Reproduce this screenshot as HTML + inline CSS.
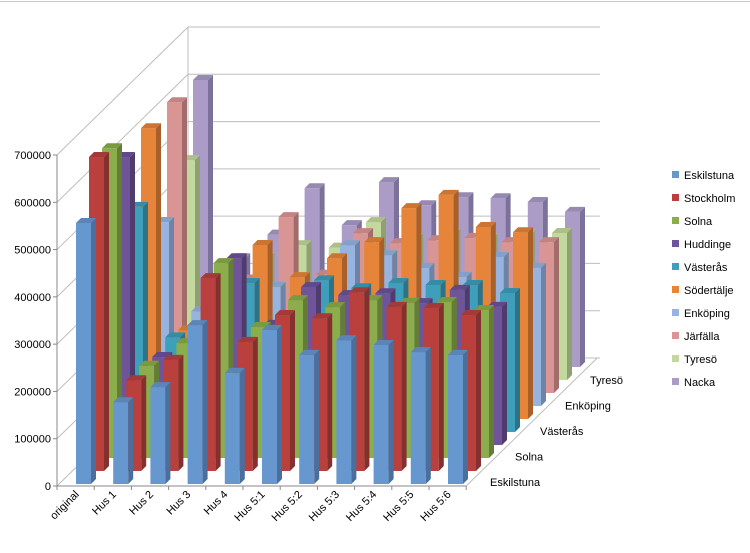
<!DOCTYPE html>
<html><head><meta charset="utf-8">
<style>
html,body{margin:0;padding:0;background:#fff;}
svg{display:block;font-family:"Liberation Sans",sans-serif;}
</style></head>
<body>
<svg id="chart" width="750" height="553" viewBox="0 0 750 553" xmlns="http://www.w3.org/2000/svg">
<line x1="0" y1="1.5" x2="750" y2="1.5" stroke="#c8c8c8"/>
<g id="walls"></g>
<g id="bars"></g>
<g id="axes"></g>
<g id="legend"></g>
</svg>
<script>
const categories = ["original","Hus 1","Hus 2","Hus 3","Hus 4","Hus 5:1","Hus 5:2","Hus 5:3","Hus 5:4","Hus 5:5","Hus 5:6"];
const seriesNames = ["Eskilstuna","Stockholm","Solna","Huddinge","Västerås","Södertälje","Enköping","Järfälla","Tyresö","Nacka"];
const eskilstuna = [552000,173000,205000,336000,235000,326000,273000,304000,294000,279000,273000];
const stockholm  = [664000,192000,235000,408000,273000,330000,323000,378000,347000,345000,330000];
const solna      = [655000,195000,243000,412000,277000,334000,319000,334000,328000,330000,313000];
const huddinge   = [609000,186000,230000,395000,254000,334000,317000,321000,300000,328000,292000];
const vasteras   = [476000,200000,240000,315000,240000,321000,304000,315000,311000,311000,294000];
const sodertalje = [615000,188000,250000,368000,300000,340000,374000,446000,474000,406000,395000];
const enkoping   = [389000,200000,230000,252000,230000,340000,319000,292000,273000,315000,292000];
const jarfalla   = [615000,210000,240000,372000,250000,338000,317000,323000,328000,319000,319000];
const tyreso     = [465000,220000,260000,285000,280000,334000,300000,310000,300000,305000,311000];
const nacka      = [607000,230000,280000,378000,300000,391000,342000,359000,357000,349000,328000];
const seriesValues = [eskilstuna,stockholm,solna,huddinge,vasteras,sodertalje,enkoping,jarfalla,tyreso,nacka];
const yTicks = [0,100000,200000,300000,400000,500000,600000,700000];
const depthLabels = ["Eskilstuna","Solna","Västerås","Enköping","Tyresö"];

const colors = ["#6797cf","#b9403d","#8bad4b","#70549a","#3e9fba","#e6853a","#97b4e0","#d99494","#c3d89c","#aa9bc7"];
const sides  = ["#4a6f9c","#83302e","#647d36","#4f3b6e","#2c7388","#a85f28","#6e84a6","#a26c6b","#8fa072","#7c719a"];
const tops   = ["#5b84b8","#a33a37","#7a9a42","#614888","#368ca4","#cc7533","#85a0c8","#c38383","#adc089","#968ab0"];

const NS="http://www.w3.org/2000/svg";
const X0=57, Y0=486, CW=37.2, DX=13, DY=13, SCALE=331/700000;
const BW=15, SD=5;
function xCat(i){return 76+CW*i;}
function yVal(v){return v*SCALE;}
function mk(tag,attrs,parent){const e=document.createElementNS(NS,tag);for(const k in attrs)e.setAttribute(k,attrs[k]);parent.appendChild(e);return e;}

// walls
const walls=document.getElementById('walls');
const WX=131, WY=128;
yTicks.forEach((t,k)=>{
  const y=Y0-yVal(t);
  const l1=mk('line',{x1:X0,y1:y,x2:X0+WX,y2:y-WY,stroke:"#bdbdbd"},walls);
  
  
  const l2=mk('line',{x1:X0+WX,y1:y-WY,x2:600,y2:y-WY,stroke:"#bdbdbd"},walls);
  
  
});
const bl=mk('line',{x1:X0+WX,y1:Y0-WY,x2:X0+WX,y2:Y0-yVal(700000)-WY,stroke:"#bdbdbd"},walls);


const fl=mk('line',{x1:X0+CW*11,y1:Y0,x2:X0+CW*11+WX,y2:Y0-WY,stroke:"#bdbdbd"},walls);



// bars
const bars=document.getElementById('bars');
for(let s=seriesValues.length-1;s>=0;s--){
  const vals=seriesValues[s];
  for(let i=0;i<categories.length;i++){
    const x=xCat(i)+DX*s, b=484-DY*s, h=yVal(vals[i]), t=b-h;
    const g=mk('g',{},bars);
    
    
    mk('rect',{x:x,y:t,width:BW,height:h,fill:colors[s]},g);
    mk('polygon',{points:`${x+BW},${t} ${x+BW+SD},${t-SD} ${x+BW+SD},${b-SD} ${x+BW},${b}`,fill:sides[s]},g);
    mk('polygon',{points:`${x},${t} ${x+SD},${t-SD} ${x+BW+SD},${t-SD} ${x+BW},${t}`,fill:tops[s]},g);
  }
}

// axes
const axes=document.getElementById('axes');
const va=mk('line',{x1:X0,y1:Y0,x2:X0,y2:Y0-yVal(700000),stroke:"#888"},axes);


const ha=mk('line',{x1:X0,y1:Y0,x2:X0+CW*11,y2:Y0,stroke:"#888"},axes);


yTicks.forEach(t=>{
  const y=Y0-yVal(t);
  mk('line',{x1:X0-4,y1:y,x2:X0,y2:y,stroke:"#888"},axes);
  const tx=mk('text',{x:X0-6,y:y+4,'text-anchor':'end','font-size':11,fill:"#000"},axes);
  tx.textContent=t;
  
  
});
for(let i=0;i<=categories.length;i++){
  const x=X0+CW*i;
  mk('line',{x1:x,y1:Y0,x2:x,y2:Y0+4,stroke:"#888"},axes);
}
categories.forEach((c,i)=>{
  const x=X0+CW*i+CW/2+4, y=Y0+9;
  const tx=mk('text',{x:x,y:y,'text-anchor':'end','font-size':11,fill:"#000",transform:`rotate(-45 ${x} ${y})`},axes);
  tx.textContent=c;
  
  
});
depthLabels.forEach((d,k)=>{
  const x=490+25*k, y=486-25.5*k;
  const tx=mk('text',{x:x,y:y,'font-size':11,fill:"#000"},axes);
  tx.textContent=d;
  
  
});

// legend
const legend=document.getElementById('legend');
seriesNames.forEach((n,k)=>{
  const y=175+k*23;
  const g=mk('g',{},legend);
  
  
  mk('rect',{x:672,y:y-4,width:7,height:7,fill:colors[k]},g);
  const tx=mk('text',{x:684,y:y+4,'font-size':11,fill:"#000"},g);
  tx.textContent=n;
});
</script>
</body></html>
